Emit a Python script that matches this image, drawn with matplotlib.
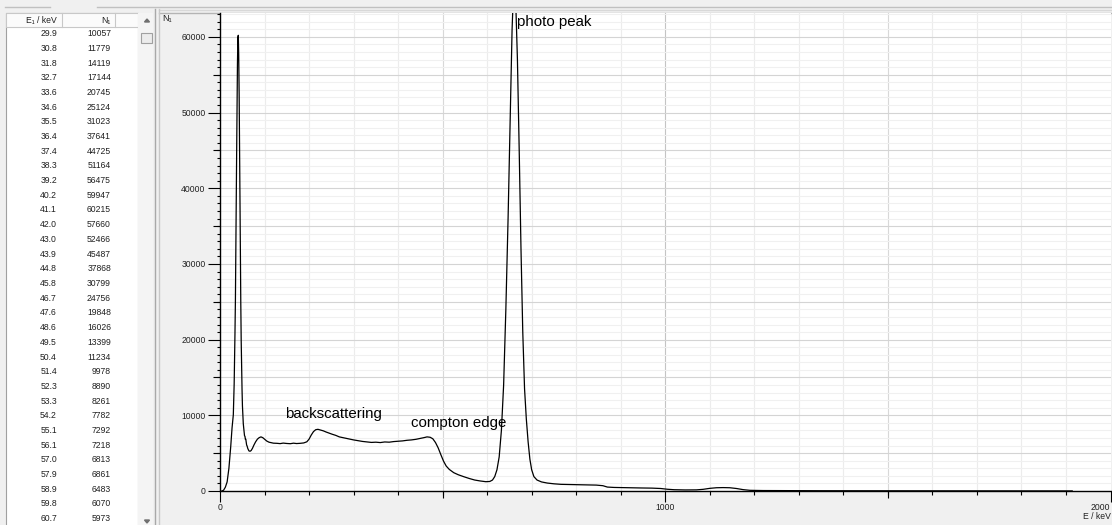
import matplotlib
matplotlib.use('Agg')
import numpy as np
import matplotlib.pyplot as plt
from matplotlib.patches import Rectangle, Polygon
from matplotlib.ticker import MultipleLocator, FixedLocator, FuncFormatter

plt.rcParams['font.family'] = ['Liberation Sans', 'DejaVu Sans']

# table shown on the left (x-ray peak channels)
table_energy = [29.9, 30.8, 31.8, 32.7, 33.6, 34.6, 35.5, 36.4, 37.4, 38.3, 39.2,
                40.2, 41.1, 42.0, 43.0, 43.9, 44.8, 45.8, 46.7, 47.6, 48.6, 49.5,
                50.4, 51.4, 52.3, 53.3, 54.2, 55.1, 56.1, 57.0, 57.9, 58.9, 59.8, 60.7]
table_counts = [10057, 11779, 14119, 17144, 20745, 25124, 31023, 37641, 44725, 51164,
                56475, 59947, 60215, 57660, 52466, 45487, 37868, 30799, 24756, 19848,
                16026, 13399, 11234, 9978, 8890, 8261, 7782, 7292, 7218, 6813, 6861,
                6483, 6070, 5973]

# spectrum, below and above the table range
low_energy = [4, 8, 12, 16, 20, 24, 27]
low_counts = [0, 100, 500, 1200, 3000, 5800, 8300]

high_energy = [62.5, 65, 67.5, 70, 73, 76, 80, 84, 88, 92, 96, 100, 105, 110, 115,
               120, 128, 135, 142, 150, 158, 165, 172, 180, 188, 195, 200, 205, 210,
               215, 220, 226, 232, 238, 245, 252, 260, 268, 276, 285, 293, 300, 310,
               320, 330, 340, 350, 360, 370, 380, 390, 400, 410, 420, 430, 440, 450,
               458, 465, 472, 478, 484, 490, 496, 502, 508, 515, 525, 535, 548, 560,
               572, 585, 597, 606, 612, 617, 622, 627, 632, 637, 642, 647, 652, 656,
               660, 664, 668, 672, 676, 680, 684, 688, 692, 696, 700, 705, 712, 722,
               735, 750, 766, 785, 805, 825, 845, 860, 870, 885, 900, 920, 946, 970,
               990, 1005, 1020, 1045, 1070, 1085, 1100, 1115, 1130, 1145, 1160, 1175,
               1190, 1220, 1280, 1350, 1450, 1600, 1750, 1914]
high_counts = [5600, 5300, 5250, 5350, 5650, 6050, 6500, 6850, 7050, 7150, 7050, 6850,
               6600, 6450, 6380, 6320, 6300, 6260, 6330, 6280, 6250, 6320, 6270, 6300,
               6350, 6500, 6850, 7400, 7850, 8100, 8150, 8050, 7950, 7800, 7650, 7500,
               7350, 7150, 7050, 6950, 6850, 6750, 6650, 6550, 6480, 6420, 6450, 6400,
               6480, 6450, 6530, 6580, 6620, 6700, 6750, 6830, 6950, 7050, 7150, 7100,
               6900, 6400, 5700, 4800, 3950, 3300, 2850, 2420, 2150, 1880, 1650, 1450,
               1320, 1230, 1260, 1450, 1900, 2800, 4500, 8000, 14000, 24000, 36000,
               50000, 61000, 67500, 65000, 57000, 45000, 32000, 21000, 13500, 9500,
               6500, 4200, 2800, 1900, 1450, 1200, 1050, 950, 880, 850, 830, 810, 780,
               700, 520, 470, 450, 430, 400, 380, 330, 230, 170, 140, 150, 220, 350,
               430, 450, 430, 330, 180, 90, 60, 45, 35, 30, 25, 18, 10]

energy = low_energy + table_energy + high_energy
counts = low_counts + table_counts + high_counts

W, H = 1112, 525
fig = plt.figure(figsize=(W / 100, H / 100), dpi=100, facecolor='#f0f0f0')

# window chrome drawn in pixel coordinates
ui = fig.add_axes([0, 0, 1, 1], zorder=0)
ui.set_xlim(0, W)
ui.set_ylim(H, 0)
ui.axis('off')

ui.plot([5, 50], [7, 7], color='#c0c0c0', lw=1)
ui.plot([97, W], [7, 7], color='#c0c0c0', lw=1)
ui.plot([159, W], [9.5, 9.5], color='#d8d8d8', lw=1)
ui.plot([159, W], [12.5, 12.5], color='#b4b4b4', lw=1)
ui.add_patch(Rectangle((6, 12.7), 132, H, facecolor='white', edgecolor='#a0a0a0', lw=0.8))
ui.add_patch(Rectangle((6, 12.7), 132, 14, facecolor='#fbfbfb', edgecolor='#c8c8c8', lw=0.8))
ui.plot([62, 62], [12.7, 26.7], color='#c8c8c8', lw=0.8)
ui.plot([115, 115], [12.7, 26.7], color='#c8c8c8', lw=0.8)
ui.add_patch(Rectangle((138, 12.7), 15, H, facecolor='#f4f4f4', edgecolor='none'))
ui.add_patch(Polygon([(144.5, 22), (149.5, 22), (147, 19)], closed=True, color='#707070'))
ui.add_patch(Polygon([(144.5, 520), (149.5, 520), (147, 523)], closed=True, color='#707070'))
ui.add_patch(Rectangle((141, 33), 11, 10, facecolor='#ececec', edgecolor='#a0a0a0', lw=0.8))
ui.plot([155, 155], [9, H], color='#a8a8a8', lw=1)
ui.plot([159, 159], [9, H], color='#c8c8c8', lw=1)

ui.text(57, 20, 'E\u2081 / keV', ha='right', va='center', fontsize=6.2, color='#202020')
ui.text(111, 20, 'N\u2081', ha='right', va='center', fontsize=6.2, color='#202020')
for i, (e, n) in enumerate(zip(table_energy, table_counts)):
    y = 33.6 + i * 14.7
    ui.text(57, y, f'{e:.1f}', ha='right', va='center', fontsize=6.2, color='#202020')
    ui.text(111, y, str(n), ha='right', va='center', fontsize=6.2, color='#202020')

ui.text(162, 19, 'N\u2081', ha='left', va='center', fontsize=6.5, color='#202020')

# spectrum plot
ax = fig.add_axes([220 / W, (H - 491) / H, (1110.5 - 220) / W, (491 - 12.7) / H], zorder=1)
ax.set_facecolor('white')

for v in range(100, 2000, 100):
    c = '#c4c4c4' if v % 1000 == 0 else ('#d8d8d8' if v % 500 == 0 else '#ececec')
    ax.axvline(v, color=c, lw=0.8, zorder=0)
for h in range(1000, 64000, 1000):
    c = '#d4d4d4' if h % 5000 == 0 else '#f0f0f0'
    ax.axhline(h, color=c, lw=0.8, zorder=0)

ax.plot(energy, counts, color='black', lw=0.9, zorder=2)
ax.set_xlim(0, 2000)
ax.set_ylim(0, 63200)

ax.spines['top'].set_visible(False)
ax.spines['right'].set_visible(False)
ax.spines['left'].set_linewidth(1)
ax.spines['bottom'].set_linewidth(1)

ax.xaxis.set_major_locator(FixedLocator([0, 1000, 2000]))
ax.xaxis.set_minor_locator(MultipleLocator(100))
ax.yaxis.set_major_locator(MultipleLocator(10000))
ax.yaxis.set_minor_locator(MultipleLocator(1000))
ax.yaxis.set_major_formatter(FuncFormatter(lambda v, p: f'{int(v)}'))
ax.tick_params(axis='x', which='major', direction='out', length=7.7, width=0.8, pad=1,
               labelsize=6.2, labelcolor='#202020')
ax.tick_params(axis='x', which='minor', direction='out', length=2.9, width=0.8)
ax.tick_params(axis='y', which='major', direction='out', length=8.4, width=0.8, pad=2,
               labelsize=6.2, labelcolor='#202020')
ax.tick_params(axis='y', which='minor', direction='out', length=2.4, width=0.8)
ax.xaxis.get_major_ticks()[-1].label1.set_horizontalalignment('right')

secx = ax.secondary_xaxis('bottom')
secx.set_xticks([500, 1500])
secx.tick_params(length=4.8, width=0.8, labelbottom=False)
secx.spines['bottom'].set_visible(False)
secy = ax.secondary_yaxis('left')
secy.set_yticks(list(range(5000, 60000, 10000)))
secy.tick_params(length=4.8, width=0.8, labelleft=False)
secy.spines['left'].set_visible(False)

ax.set_xlabel('E / keV', loc='right', fontsize=6.2, labelpad=0, color='#202020')

ax.text(666, 61400, 'photo peak', fontsize=10.8, va='baseline')
ax.text(146, 9600, 'backscattering', fontsize=10.8, va='baseline')
ax.text(429, 8500, 'compton edge', fontsize=10.8, va='baseline')

fig.savefig('out.png', dpi=100, facecolor=fig.get_facecolor())
